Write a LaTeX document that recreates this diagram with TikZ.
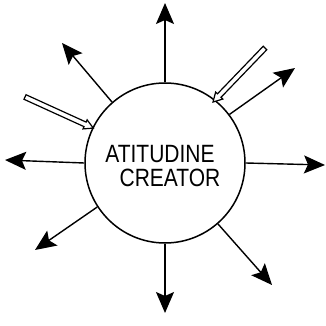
\documentclass[tikz,border=0pt]{standalone}
\usepackage{fontspec}
\setmainfont{Liberation Sans}
\usetikzlibrary{arrows.meta}
\begin{document}
\begin{tikzpicture}[x=1pt,y=-1pt,
  outarrow/.style={line width=1.4pt,-{Stealth[length=21pt,width=18pt,inset=4pt]}},
  hollow/.style={line width=1.2pt,fill=white,line join=miter},
  lettering/.style={font=\fontsize{25}{28}\selectfont,inner sep=0pt}]
\useasboundingbox (0,0) rectangle (325,326);
\node[circle,draw,line width=1.5pt,minimum size=160pt,inner sep=0pt] (c) at (165,163) {};
\node[lettering] (t1) at (160,154) {\scalebox{0.84}[1]{ATITUDINE}};
\node[lettering] (t2) at (170,178) {\scalebox{0.84}[1]{CREATOR}};
% outward arrows
\coordinate (up) at (165,3);
\coordinate (ul) at (62,43);
\coordinate (ur) at (295,68);
\coordinate (rt) at (325,165);
\coordinate (lr) at (272,285);
\coordinate (dn) at (165,313);
\coordinate (ll) at (35,250);
\coordinate (lt) at (5,160);
\draw[outarrow] (c.90) -- (up);
\draw[outarrow] (c.131) -- (ul);
\draw[outarrow] (c.37) -- (ur);
\draw[outarrow] (c.0) -- (rt);
\draw[outarrow] (c.-49) -- (lr);
\draw[outarrow] (c.-90) -- (dn);
\draw[outarrow] (c.213) -- (ll);
\draw[outarrow] (c.180) -- (lt);
% hollow inward arrows
\coordinate (h1) at (25,97);
\coordinate (h2) at (265,48);
\begin{scope}[shift={(h1)},rotate=-24.5]
\draw[hollow] (0,-2.5) -- (66,-2.5) -- (66,-5) -- (75,0) -- (66,5) -- (66,2.5) -- (0,2.5) -- cycle;
\end{scope}
\begin{scope}[shift={(h2)},rotate=-133.9]
\draw[hollow] (0,-2.5) -- (66,-2.5) -- (66,-5) -- (75,0) -- (66,5) -- (66,2.5) -- (0,2.5) -- cycle;
\end{scope}
\end{tikzpicture}
\end{document}
